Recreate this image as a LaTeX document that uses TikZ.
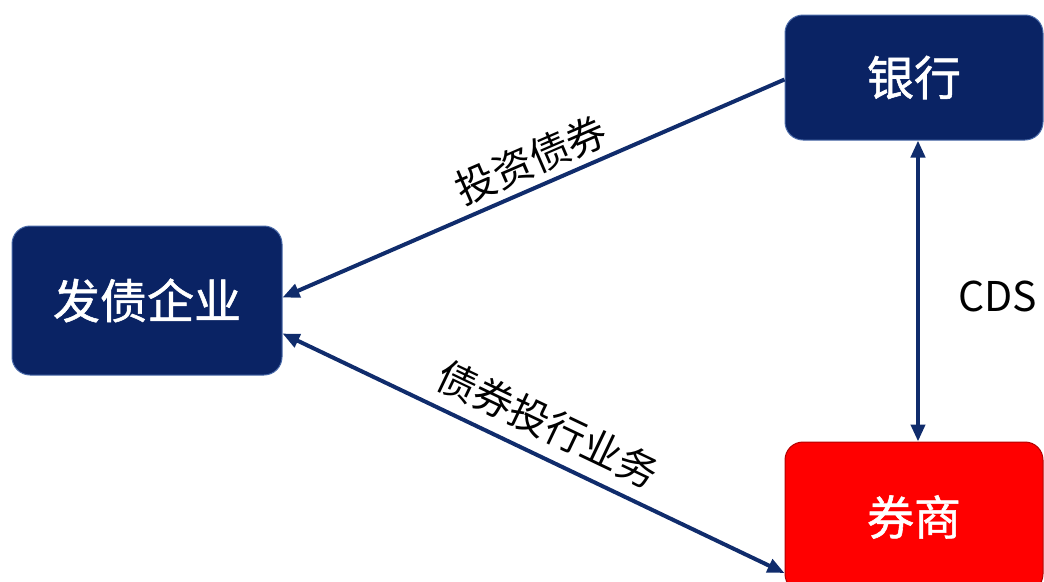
\documentclass[tikz,border=0pt]{standalone}
\usepackage{fontspec}
\setmainfont{Noto Sans CJK SC}
\newfontfamily\cjk{Noto Sans CJK SC}
\newfontfamily\cjkb[FakeBold=1.2]{Noto Sans CJK SC}
\usetikzlibrary{arrows.meta}
\definecolor{navy}{HTML}{0A2364}
\definecolor{navyline}{HTML}{102C6C}
\definecolor{boxedge}{HTML}{4A6AA8}
\definecolor{redbox}{HTML}{FF0000}
\tikzset{
  box/.style={draw=boxedge, line width=1pt, fill=navy, rounded corners=18pt,
    text=white, font=\cjkb\fontsize{47}{50}\selectfont, inner sep=0pt, anchor=center},
  redstyle/.style={fill=redbox, draw=redbox!70!black},
  conn/.style={draw=navyline, line width=4pt},
  dbl/.style={{Triangle[length=17pt,width=14pt]}-{Triangle[length=17pt,width=14pt]}},
  tip/.style={-{Triangle[length=17pt,width=14pt]}},
  lbl/.style={font=\cjk\fontsize{40}{42}\selectfont, text=black, inner sep=0pt},
}
\begin{document}
\begin{tikzpicture}[x=1pt,y=-1pt]
\useasboundingbox (0,0) rectangle (1044,581);
\clip (0,0) rectangle (1044,581);
\node[box, minimum width=270pt, minimum height=149pt] (qiye) at (147,300.5) {发债企业};
\node[box, minimum width=258pt, minimum height=125pt] (yinhang) at (914,77.5) {银行};
\node[box, redstyle, minimum width=258pt, minimum height=150pt] (quanshang) at (914,517) {券商};
\draw[conn, tip] ([yshift=-2pt]yinhang.west) -- ([yshift=3pt]qiye.east);
\draw[conn, dbl] ([yshift=-33pt]qiye.east) -- ([yshift=-56pt]quanshang.west);
\draw[conn, dbl] ([xshift=4pt]yinhang.south) -- ([xshift=4pt]quanshang.north);
\node[lbl, rotate=23.4] (l1) at (531,160) {投资债券};
\node[lbl, rotate=-25.5] (l2) at (548,424) {债券投行业务};
\node[font=\cjk\fontsize{41}{44}\selectfont, text=black, inner sep=0pt] (cds) at (998,296) {CDS};
\end{tikzpicture}
\end{document}
